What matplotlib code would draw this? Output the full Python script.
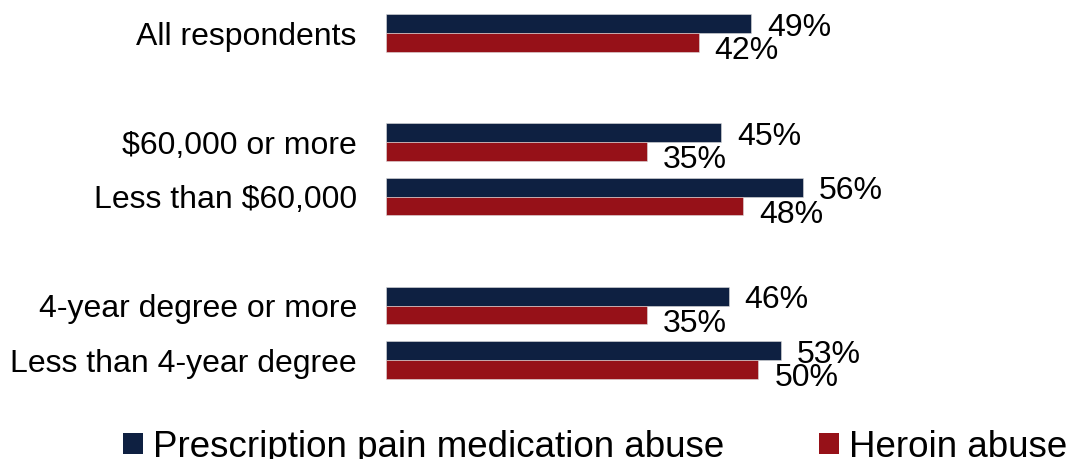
import matplotlib
matplotlib.use("Agg")
import matplotlib.pyplot as plt
from matplotlib.patches import Patch

plt.rcParams["font.family"] = ["Liberation Sans", "DejaVu Sans"]

# rows top to bottom; empty strings are spacer rows between groups
categories = [
    "All respondents",
    "",
    "$60,000 or more",
    "Less than $60,000",
    "",
    "4-year degree or more",
    "Less than 4-year degree",
]
prescription = [49, None, 45, 56, None, 46, 53]
heroin = [42, None, 35, 48, None, 35, 50]
series_names = ["Prescription pain medication abuse", "Heroin abuse"]

navy = "#0E2041"
red = "#961118"

fig = plt.figure(figsize=(10.76, 4.59), dpi=100)
ax = fig.add_axes([386 / 1076, 1 - 387.25 / 459, 685 / 1076, 381.5 / 459])

bar_h = 0.34
for i, (p, h) in enumerate(zip(prescription, heroin)):
    if p is None:
        continue
    ax.barh(i - bar_h / 2, p, height=bar_h, color=navy, edgecolor="#DDDDDD", linewidth=0.4)
    ax.barh(i + bar_h / 2, h, height=bar_h, color=red, edgecolor="#DDDDDD", linewidth=0.4)
    ax.annotate(f"{p}%", (p, i - bar_h / 2), xytext=(16, -12), textcoords="offset pixels",
                ha="left", va="baseline", fontsize=23, color="black")
    ax.annotate(f"{h}%", (h, i + bar_h / 2), xytext=(16, -17), textcoords="offset pixels",
                ha="left", va="baseline", fontsize=23, color="black")

ax.set_xlim(0, 92)
ax.set_ylim(6.5, -0.5)
ax.set_xticks([])
ax.set_yticks(range(len(categories)))
ax.set_yticklabels(categories, fontsize=23)
ax.tick_params(axis="y", length=0, pad=21)
for s in ax.spines.values():
    s.set_visible(False)

handles = [Patch(facecolor=navy), Patch(facecolor=red)]
fig.legend(handles, series_names, loc="lower left", bbox_to_anchor=(123 / 1076, -0.012),
           ncol=2, frameon=False, fontsize=26.5, handlelength=0.54, handleheight=0.54,
           handletextpad=0.27, columnspacing=2.58, borderpad=0, borderaxespad=0)

fig.savefig("out.png", dpi=100)
